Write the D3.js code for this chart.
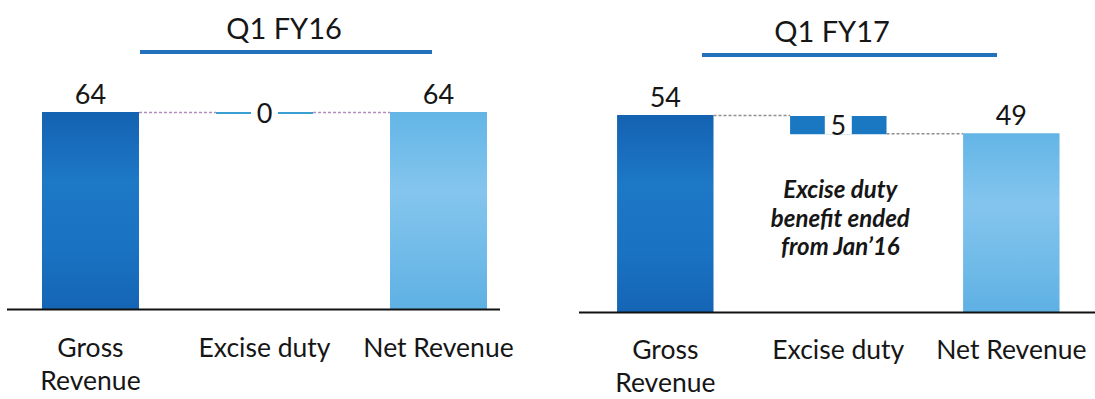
<!DOCTYPE html>
<html>
<head>
<meta charset="utf-8">
<script src="https://cdn.jsdelivr.net/npm/d3@7"></script>
<style>
  html, body { margin: 0; padding: 0; background: #fff; }
  svg { display: block; font-family: Lato, "Open Sans", sans-serif; }
</style>
</head>
<body>
<svg id="chart" width="1095" height="399"></svg>
<script>
// ---- data ----
const periods = ["Q1 FY16", "Q1 FY17"];
const categories = ["Gross Revenue", "Excise duty", "Net Revenue"];
const categoryLines = [["Gross", "Revenue"], ["Excise duty"], ["Net Revenue"]];
const grossRevenue = [64, 54];
const exciseDuty = [0, 5];
const netRevenue = [64, 49];
const noteLines = ["Excise duty", "benefit ended", "from Jan\u201916"];

// ---- layout per panel ----
const layout = [
  { range: [3.7, 525.3], axisY: 309, axisX: [7, 500], titleX: 284, titleY: 39, rule: [140, 432], ruleY: 52, labelY: 357, connector: "#b48cc0" },
  { range: [579, 1097.6], axisY: 312, axisX: [579, 1095], titleX: 832, titleY: 42, rule: [702, 997], ruleY: 55, labelY: 359, connector: "#8e8e8e" }
];
const barHeightMax = 197;

const svg = d3.select("#chart");

// gradients for the total bars
const defs = svg.append("defs");
function gradient(id, stops) {
  const g = defs.append("linearGradient").attr("id", id)
    .attr("x1", 0).attr("y1", 0).attr("x2", 0).attr("y2", 1);
  stops.forEach(([o, c]) => g.append("stop").attr("offset", o).attr("stop-color", c));
}
gradient("grossFill", [[0, "#1462b2"], [0.35, "#1d78c6"], [0.7, "#1a72c2"], [1, "#1565b5"]]);
gradient("netFill", [[0, "#63b5e6"], [0.4, "#84c5ee"], [0.75, "#6fbae8"], [1, "#5eb0e3"]]);

periods.forEach((period, i) => {
  const L = layout[i];
  const g = svg.append("g");
  const gross = grossRevenue[i], duty = exciseDuty[i], net = netRevenue[i];

  const x = d3.scaleBand().domain(categories).range(L.range)
    .paddingInner(0.4425).paddingOuter(0.22);
  const y = d3.scaleLinear().domain([0, d3.max([gross, net])])
    .range([L.axisY, L.axisY - barHeightMax]);
  const bw = x.bandwidth();

  // title and underline
  g.append("text").attr("x", L.titleX).attr("y", L.titleY)
    .attr("text-anchor", "middle").attr("font-size", 29).attr("fill", "#161616")
    .text(period);
  g.append("line").attr("x1", L.rule[0]).attr("x2", L.rule[1])
    .attr("y1", L.ruleY).attr("y2", L.ruleY)
    .attr("stroke", "#2171bd").attr("stroke-width", 4);

  // total bars
  const totals = [
    { cat: categories[0], value: gross, fill: "url(#grossFill)" },
    { cat: categories[2], value: net, fill: "url(#netFill)" }
  ];
  g.selectAll("rect.total").data(totals).join("rect").attr("class", "total")
    .attr("x", d => x(d.cat)).attr("width", bw)
    .attr("y", d => y(d.value)).attr("height", d => y(0) - y(d.value))
    .attr("fill", d => d.fill);

  g.selectAll("text.total").data(totals).join("text").attr("class", "total")
    .attr("x", d => x(d.cat) + bw / 2).attr("y", d => y(d.value) - 8)
    .attr("text-anchor", "middle").attr("font-size", 27).attr("fill", "#161616")
    .text(d => d.value);

  // excise step
  const ex = x(categories[1]);
  const top = y(gross), bottom = y(gross - duty);
  const mid = (top + bottom) / 2;
  if (duty > 0) {
    g.append("rect").attr("x", ex).attr("width", bw)
      .attr("y", top + 1).attr("height", bottom - top)
      .attr("fill", "#1a78c2");
  } else {
    g.append("line").attr("x1", ex).attr("x2", ex + bw)
      .attr("y1", top + 1).attr("y2", top + 1)
      .attr("stroke", "#3a9ed2").attr("stroke-width", 2);
  }
  g.append("rect").attr("x", ex + bw / 2 - 13.5).attr("width", 27)
    .attr("y", Math.min(top, mid - 10)).attr("height", Math.max(bottom - top + 2, 20))
    .attr("fill", "#fff");
  g.append("text").attr("x", ex + bw / 2).attr("y", mid + 1)
    .attr("dy", "0.36em").attr("text-anchor", "middle")
    .attr("font-size", 27).attr("fill", "#161616").text(duty);

  // dashed connectors
  const conn = [
    [x(categories[0]) + bw, ex, y(gross)],
    [ex + bw, x(categories[2]), y(net)]
  ];
  g.selectAll("line.conn").data(conn).join("line").attr("class", "conn")
    .attr("x1", d => d[0]).attr("x2", d => d[1])
    .attr("y1", d => d[2] + 0.5).attr("y2", d => d[2] + 0.5)
    .attr("stroke", L.connector).attr("stroke-width", 1.4)
    .attr("stroke-dasharray", "3,2");

  // baseline
  g.append("line").attr("x1", L.axisX[0]).attr("x2", L.axisX[1])
    .attr("y1", L.axisY + 0.5).attr("y2", L.axisY + 0.5)
    .attr("stroke", "#111").attr("stroke-width", 2.2);

  // category labels
  categories.forEach((c, k) => {
    const t = g.append("text").attr("x", x(c) + bw / 2).attr("y", L.labelY)
      .attr("text-anchor", "middle").attr("font-size", 26.5).attr("fill", "#161616");
    categoryLines[k].forEach((line, j) => {
      t.append("tspan").attr("x", x(c) + bw / 2).attr("dy", j === 0 ? 0 : 33).text(line);
    });
  });

  // note under the excise step
  if (duty > 0) {
    const n = g.append("text").attr("x", ex + bw / 2 + 2).attr("y", 198)
      .attr("text-anchor", "middle").attr("font-size", 24)
      .attr("font-weight", "bold").attr("font-style", "italic").attr("fill", "#161616");
    noteLines.forEach((line, j) => {
      n.append("tspan").attr("x", ex + bw / 2 + 2).attr("dy", j === 0 ? 0 : 28.5).text(line);
    });
  }
});
</script>
</body>
</html>
